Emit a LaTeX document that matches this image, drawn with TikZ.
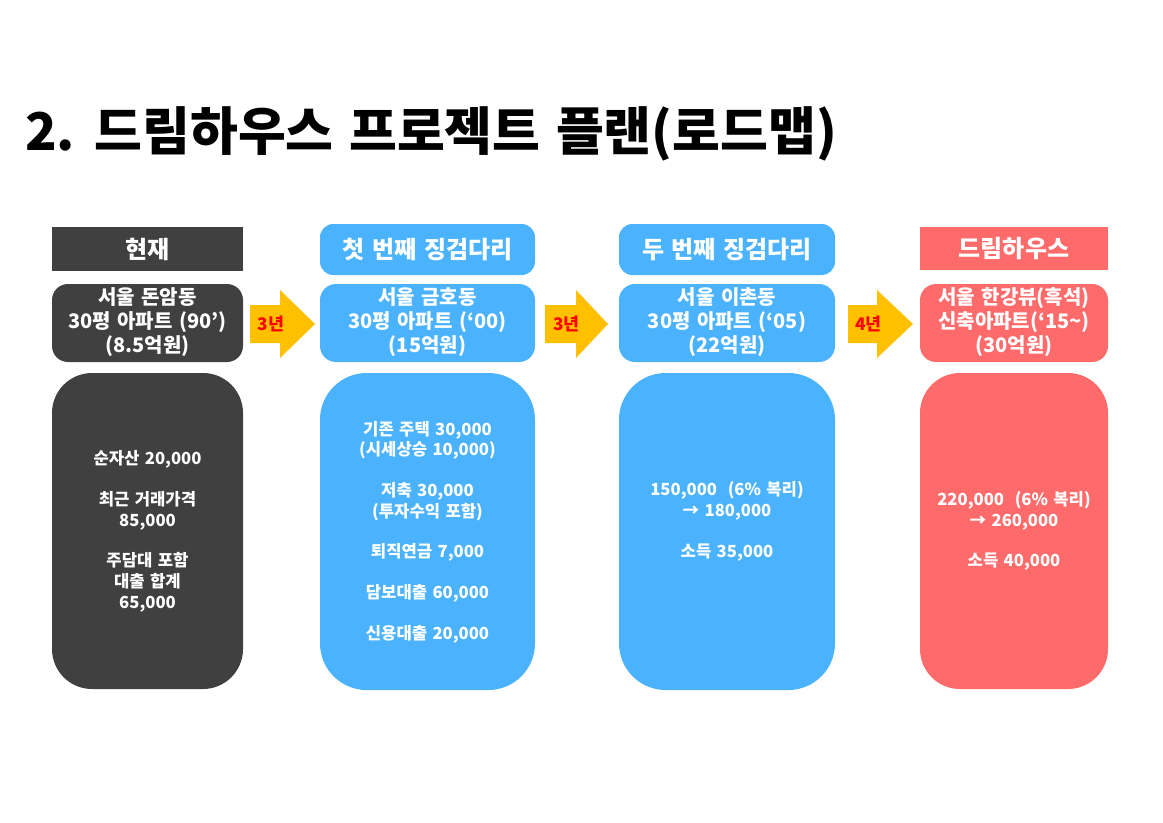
\documentclass[tikz,border=0pt]{standalone}
\usepackage{fontspec}
\setmainfont{Noto Sans CJK KR}[WordSpace=1.4]
\newfontfamily\titlefont{Noto Sans CJK KR}[WordSpace=1.3]
\usetikzlibrary{positioning}
\definecolor{darkbox}{HTML}{404040}
\definecolor{bluebox}{HTML}{4BB3FD}
\definecolor{redbox}{HTML}{FF6B6B}
\definecolor{arrowyel}{HTML}{FFC000}
\definecolor{labred}{HTML}{FF0000}
\tikzset{
  box/.style={inner sep=0pt, text=white, font=\bfseries, align=center},
  headsq/.style={box, font=\fontsize{18}{22}\bfseries},
  midtxt/.style={box, font=\fontsize{15}{18}\bfseries},
  bigtxt/.style={box, font=\fontsize{12.5}{15.5}\bfseries},
  yelarrow/.style={fill=arrowyel, draw=none},
  yearlab/.style={text=labred, font=\fontsize{13}{15}\bfseries, inner sep=0pt}
}
\begin{document}
\begin{tikzpicture}[x=0.75pt,y=-0.75pt]
\useasboundingbox (0,0) rectangle (1163,822);
% title
\node[anchor=west, inner sep=0pt, font=\titlefont\fontsize{39}{44}\bfseries] (title) at (25,134) {2. 드림하우스 프로젝트 플랜(로드맵)};

% column 1
\fill[darkbox] (52,227) rectangle (243,271);
\node[headsq] (h1) at (147.5,249) {현재};
\fill[darkbox, rounded corners=12] (52,284) rectangle (243,362);
\node[midtxt] (m1) at (147.5,322) {서울 돈암동\\30평 아파트 (90’)\\(8.5억원)};
\fill[darkbox, rounded corners=30] (52,373) rectangle (243,689);
\node[bigtxt] (b1) at (147.5,531.5) {순자산 20,000\\[15pt]최근 거래가격\\85,000\\[15pt]주담대 포함\\대출 합계\\65,000};

% column 2
\fill[bluebox, rounded corners=10] (320,224) rectangle (535,275);
\node[headsq] (h2) at (427.5,249.5) {첫 번째 징검다리};
\fill[bluebox, rounded corners=12] (320,284) rectangle (535,362);
\node[midtxt] (m2) at (427.5,322) {서울 금호동\\30평 아파트 (‘00)\\(15억원)};
\fill[bluebox, rounded corners=35] (320,373) rectangle (535,690);
\node[bigtxt] (b2) at (427.5,532) {기존 주택 30,000\\(시세상승 10,000)\\[15pt]저축 30,000\\(투자수익 포함)\\[15pt]퇴직연금 7,000\\[15pt]담보대출 60,000\\[15pt]신용대출 20,000};

% column 3
\fill[bluebox, rounded corners=10] (619,224) rectangle (835,275);
\node[headsq] (h3) at (727,249.5) {두 번째 징검다리};
\fill[bluebox, rounded corners=12] (619,284) rectangle (835,362);
\node[midtxt] (m3) at (727,322) {서울 이촌동\\30평 아파트 (‘05)\\(22억원)};
\fill[bluebox, rounded corners=35] (619,373) rectangle (835,690);
\node[bigtxt] (b3) at (727,521.5) {150,000~ (6\% 복리)\\→ 180,000\\[15pt]소득 35,000};

% column 4
\fill[redbox] (920,227) rectangle (1108,270);
\node[headsq] (h4) at (1014,248.5) {드림하우스};
\fill[redbox, rounded corners=12] (920,284) rectangle (1108,362);
\node[midtxt] (m4) at (1014,322) {서울 한강뷰(흑석)\\신축아파트(‘15\textasciitilde)\\(30억원)};
\fill[redbox, rounded corners=30] (920,373) rectangle (1108,689);
\node[bigtxt] (b4) at (1014,531) {220,000~ (6\% 복리)\\→ 260,000\\[15pt]소득 40,000};

% arrows
\foreach \xa/\xb/\xt/\lab/\nm in {250/280/315/3년/a1, 545/576/608/3년/a2, 848/877/913/4년/a3}{
  \fill[yelarrow] (\xa,305) -- (\xb,305) -- (\xb,290) -- (\xt,324) -- (\xb,358) -- (\xb,343) -- (\xa,343) -- cycle;
  \node[yearlab] (\nm) at ({(\xa+\xb)/2+6},324) {\lab};
}
\end{tikzpicture}
\end{document}
